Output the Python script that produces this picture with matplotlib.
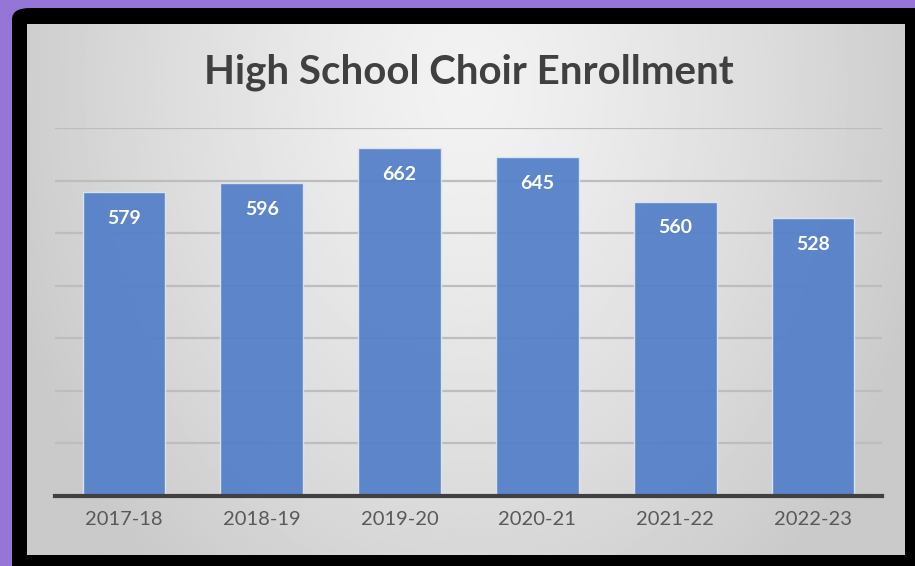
import matplotlib.pyplot as plt
import numpy as np
from matplotlib.patches import FancyBboxPatch

# data
years = ['2017-18', '2018-19', '2019-20', '2020-21', '2021-22', '2022-23']
enrollment = [579, 596, 662, 645, 560, 528]

W, H = 915, 566
fig = plt.figure(figsize=(W / 100, H / 100), dpi=100)
fig.patch.set_facecolor('#9575D5')

# black frame (behind everything)
frame = FancyBboxPatch((12 / W, -0.05), 1 - 12 / W + 0.05, 1 - 8 / H + 0.05,
                       boxstyle='round,pad=0,rounding_size=0.02',
                       transform=fig.transFigure, facecolor='black',
                       edgecolor='none', zorder=-5)
fig.patches.append(frame)

# gray panel with radial gradient
bg = fig.add_axes([27 / W, 11 / H, (905 - 27) / W, (555 - 24) / H], zorder=-1)
gx, gy = np.meshgrid(np.linspace(-1, 1, 400), np.linspace(0, 1, 300))
dist = np.sqrt((gx / 1.0) ** 2 + ((gy - 0.12) / 1.1) ** 2)
shade = 0.95 - 0.16 * np.clip(dist / 1.1, 0, 1) ** 1.3
bg.imshow(shade, cmap='gray', vmin=0, vmax=1, aspect='auto',
          extent=[0, 1, 1, 0])
bg.set_axis_off()

# main plot area
ax = fig.add_axes([55 / W, (H - 496) / H, 827 / W, (496 - 128) / H])
ax.set_facecolor('none')
x = np.arange(len(years))
bars = ax.bar(x, enrollment, width=0.6, color='#5580C9', alpha=0.94,
              edgecolor='#DCE6F5', linewidth=1, zorder=3)

for xi, v in zip(x, enrollment):
    ax.annotate(str(v), (xi, v), xytext=(0, -19), textcoords='offset points',
                ha='center', va='center', color='white', fontsize=14,
                fontweight='bold', family='Lato', zorder=4)

ax.set_xlim(-0.5, len(years) - 0.5)
ax.set_ylim(0, 700)
ax.set_yticks(range(0, 701, 100))
ax.yaxis.grid(True, color='#BDBDBD', linewidth=1.6, zorder=0)
ax.tick_params(axis='y', left=False, labelleft=False)
ax.set_xticks(x)
ax.set_xticklabels(years, family='Lato', fontsize=14.5, color='#595959')
ax.tick_params(axis='x', length=0, pad=11)
for s in ['top', 'right', 'left']:
    ax.spines[s].set_visible(False)
ax.spines['bottom'].set_color('#404040')
ax.spines['bottom'].set_linewidth(3)
ax.spines['bottom'].set_zorder(5)

fig.text(469 / W, 1 - 72 / H, 'High School Choir Enrollment', ha='center',
         va='center', fontsize=29, fontweight='bold', color='#404040',
         family='Lato')

fig.savefig('out.png', dpi=100, facecolor=fig.get_facecolor())
